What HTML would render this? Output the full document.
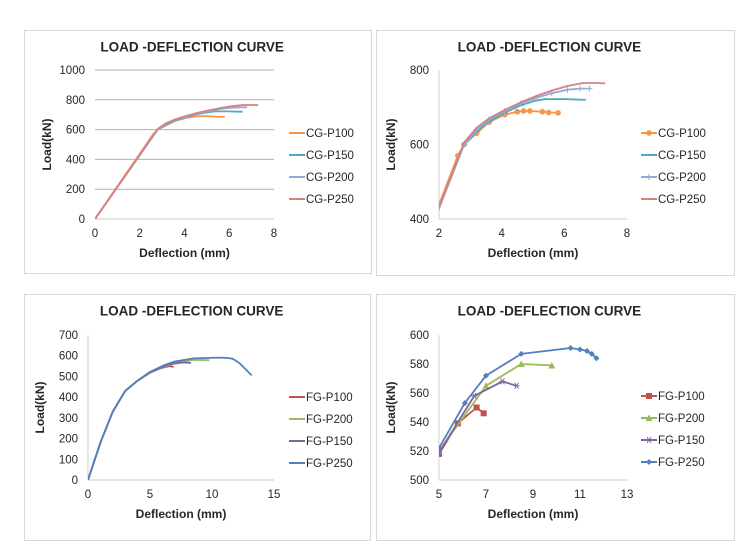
<!DOCTYPE html>
<html><head><meta charset="utf-8">
<style>
html,body{margin:0;padding:0;width:752px;height:552px;overflow:hidden;background:#fff;font-family:"Liberation Sans",sans-serif;}
svg{display:block}
text{font-family:"Liberation Sans",sans-serif;fill:#262626}
</style></head>
<body>
<svg id="root" width="752" height="552" viewBox="0 0 752 552">
<rect x="0" y="0" width="752" height="552" fill="#fff"/>
</svg>
<script>
// ---- data ----
const cgNames = ["CG-P100","CG-P150","CG-P200","CG-P250"];
const cgColors = ["#F79646","#4BACC6","#95A9D6","#D98080"];
const cgP100x = [0,2.6,2.8,3.2,3.6,4.1,4.5,4.7,4.9,5.3,5.5,5.8];
const cgP100y = [0,570,600,630,660,680,688,690,690,688,686,685];
const cgP150x = [0,2.8,3.2,3.6,4.1,4.6,5.1,5.4,5.7,6.0,6.3,6.6];
const cgP150y = [0,600,635,662,685,705,718,722,722,722,721,720];
const cgP200x = [0,2.8,3.2,3.6,4.1,4.6,5.1,5.6,6.1,6.5,6.8];
const cgP200y = [0,600,640,667,690,710,725,738,747,750,750];
const cgP250x = [0,2.8,3.2,3.6,4.1,4.6,5.1,5.6,6.1,6.6,7.0,7.3];
const cgP250y = [0,605,645,670,693,713,730,745,757,765,765,764];

const fgNames = ["FG-P100","FG-P200","FG-P150","FG-P250"];
const fgColors = ["#C0504D","#9BBB59","#8064A2","#4F81BD"];
const fgP100x = [0,1,2,3,4,5,5.8,6.6,6.9];
const fgP100y = [0,180,330,430,480,518,539,550,546];
const fgP200x = [0,1,2,3,4,5,7,8.5,9.8];
const fgP200y = [0,180,330,430,480,520,565,580,579];
const fgP150x = [0,1,2,3,4,5,6.5,7.7,8.3];
const fgP150y = [0,180,330,430,480,519,558,568,565];
const fgP250x = [0,1,2,3,4,5,6.1,7,8.5,10.6,11,11.3,11.5,11.7];
const fgP250y = [0,180,330,430,480,522,553,572,587,591,590,589,587,584];
const fgP250tailX = [12.2,13.2];
const fgP250tailY = [565,505];

const xTicks1 = [0,2,4,6,8];
const yTicks1 = [0,200,400,600,800,1000];
const xTicks2 = [2,4,6,8];
const yTicks2 = [400,600,800];
const xTicks3 = [0,5,10,15];
const yTicks3 = [0,100,200,300,400,500,600,700];
const xTicks4 = [5,7,9,11,13];
const yTicks4 = [500,520,540,560,580,600];

const NS="http://www.w3.org/2000/svg";
const root=document.getElementById('root');
function mk(tag,attrs,parent){const e=document.createElementNS(NS,tag);for(const k in attrs)e.setAttribute(k,attrs[k]);(parent||root).appendChild(e);return e;}

function drawChart(cfg){
  const g=mk('g',{});
  
  
  const frame=mk('rect',{x:cfg.box[0],y:cfg.box[1],width:cfg.box[2],height:cfg.box[3],fill:'#fff',stroke:'#d9d9d9'},g);
  
  
  const [x0,x1,px0,px1]=cfg.xmap,[y0,y1,py0,py1]=cfg.ymap;
  const X=v=>px0+(v-x0)/(x1-x0)*(px1-px0);
  const Y=v=>py0+(v-y0)/(y1-y0)*(py1-py0);
  const t=mk('text',{x:cfg.box[0]+cfg.box[2]*0.483,y:cfg.box[1]+21,'text-anchor':'middle','font-size':'13.5','font-weight':'bold'},g);
  t.textContent='LOAD -DEFLECTION CURVE';
  
  
  cfg.yt.forEach(v=>{
    if(cfg.grid && v!==cfg.yt[0]) mk('line',{x1:px0,x2:px1,y1:Y(v),y2:Y(v),stroke:'#b0b0b0','stroke-width':1},g);
    const l=mk('text',{x:px0-10,y:Y(v)+4,'text-anchor':'end','font-size':'11.5'},g);
    l.textContent=v;
    
    
  });
  cfg.xt.forEach(v=>{
    const l=mk('text',{x:X(v),y:py0+18,'text-anchor':'middle','font-size':'11.5'},g);
    l.textContent=v;
    
    
  });
  mk('line',{x1:px0,x2:px1,y1:py0,y2:py0,stroke:'#c8c8c8'},g);
  if(!cfg.grid) mk('line',{x1:px0,x2:px0,y1:py0,y2:py1,stroke:'#d0d0d0'},g);
  const xl=mk('text',{x:(px0+px1)/2,y:py0+38,'text-anchor':'middle','font-size':'12','font-weight':'bold'},g);
  xl.textContent='Deflection (mm)';
  
  
  const yl=mk('text',{x:0,y:0,'text-anchor':'middle','font-size':'12','font-weight':'bold',transform:`translate(${px0-44},${(py0+py1)/2}) rotate(-90)`},g);
  yl.textContent='Load(kN)';
  
  
  const cp=mk('clipPath',{id:'cp'+cfg.name},g);
  mk('rect',{x:px0,y:py1-6,width:px1-px0+6,height:py0-py1+6},cp);
  const sg=mk('g',{'clip-path':`url(#cp${cfg.name})`},g);
  cfg.series.forEach((s,i)=>{
    const pts=s.x.map((v,j)=>X(v).toFixed(1)+','+Y(s.y[j]).toFixed(1)).join(' ');
    const pl=mk('polyline',{points:pts,fill:'none',stroke:cfg.colors[i],'stroke-width':1.8,'stroke-linejoin':'round'},sg);
    
    
    if(cfg.markers){
      s.x.forEach((v,j)=>{ if(v<x0) return; drawMarker(sg,cfg.markers[i],X(v),Y(s.y[j]),cfg.colors[i]); });
    }
  });
  cfg.names.forEach((n,i)=>{
    const ly=cfg.legY+i*22;
    const lg=mk('g',{},g);
    
    
    mk('line',{x1:cfg.legX,x2:cfg.legX+16,y1:ly,y2:ly,stroke:cfg.colors[i],'stroke-width':2},lg);
    if(cfg.markers) drawMarker(lg,cfg.markers[i],cfg.legX+8,ly,cfg.colors[i]);
    const lt=mk('text',{x:cfg.legX+17,y:ly+4,'font-size':'11.5'},lg);
    lt.textContent=n;
  });
}
function drawMarker(p,type,x,y,c){
  if(type==='circle') mk('circle',{cx:x,cy:y,r:2.8,fill:c},p);
  else if(type==='square') mk('rect',{x:x-3,y:y-3,width:6,height:6,fill:c},p);
  else if(type==='tri') mk('polygon',{points:`${x},${y-3.5} ${x-3.5},${y+3} ${x+3.5},${y+3}`,fill:c},p);
  else if(type==='diamond') mk('polygon',{points:`${x},${y-3} ${x+3},${y} ${x},${y+3} ${x-3},${y}`,fill:c},p);
  else if(type==='dash') mk('line',{x1:x-3,x2:x+3,y1:y,y2:y,stroke:c,'stroke-width':1.5},p);
  else if(type==='plus'){mk('line',{x1:x-3,x2:x+3,y1:y,y2:y,stroke:c},p);mk('line',{x1:x,x2:x,y1:y-3,y2:y+3,stroke:c},p);}
  else if(type==='star'){mk('line',{x1:x-3,x2:x+3,y1:y,y2:y,stroke:c},p);mk('line',{x1:x-2,x2:x+2,y1:y-3,y2:y+3,stroke:c},p);mk('line',{x1:x+2,x2:x-2,y1:y-3,y2:y+3,stroke:c},p);}
}
const cgSeries=[{x:cgP100x,y:cgP100y},{x:cgP150x,y:cgP150y},{x:cgP200x,y:cgP200y},{x:cgP250x,y:cgP250y}];
const fgSeries=[{x:fgP100x,y:fgP100y},{x:fgP200x,y:fgP200y},{x:fgP150x,y:fgP150y},{x:fgP250x,y:fgP250y}];
const fgSeriesFull=[fgSeries[0],fgSeries[1],fgSeries[2],{x:fgP250x.concat(fgP250tailX),y:fgP250y.concat(fgP250tailY)}];
drawChart({name:'cg-full-chart',box:[24.5,30.5,347,243],xmap:[0,8,95,274],ymap:[0,1000,219,70],xt:xTicks1,yt:yTicks1,grid:true,series:cgSeries,names:cgNames,colors:cgColors,legX:289,legY:133});
drawChart({name:'cg-zoom-chart',box:[376.5,30.5,358,245],xmap:[2,8,439,627],ymap:[400,800,219,70],xt:xTicks2,yt:yTicks2,grid:false,series:cgSeries,names:cgNames,colors:cgColors,markers:['circle','dash','plus',null],legX:641,legY:133});
drawChart({name:'fg-full-chart',box:[24.5,294.5,346,246],xmap:[0,15,88,274],ymap:[0,700,480,335],xt:xTicks3,yt:yTicks3,grid:false,series:fgSeriesFull,names:fgNames,colors:fgColors,legX:289,legY:397});
drawChart({name:'fg-zoom-chart',box:[376.5,294.5,358,246],xmap:[5,13,439,627],ymap:[500,600,480,335],xt:xTicks4,yt:yTicks4,grid:false,series:fgSeries,names:fgNames,colors:fgColors,markers:['square','tri','star','diamond'],legX:641,legY:396});
</script>
</body></html>
